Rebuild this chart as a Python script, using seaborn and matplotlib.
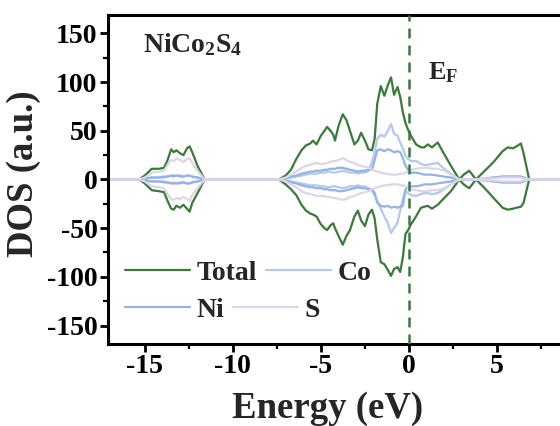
import matplotlib
matplotlib.use("Agg")
import matplotlib.pyplot as plt
import seaborn as sns
from matplotlib.ticker import MultipleLocator

# Energy grid (eV) shared by all DOS curves
energy = [-17.5, -15.3, -15.0, -14.6, -14.2, -13.9, -13.7, -13.5, -13.35, -13.2,
          -13.0, -12.8, -12.6, -12.45, -12.3, -12.0, -11.6,
          -7.4, -7.0, -6.7, -6.4, -6.1, -5.85, -5.6, -5.45, -5.25, -5.0,
          -4.8, -4.65, -4.45, -4.3, -4.2, -4.0, -3.76, -3.55, -3.35, -3.1,
          -2.9, -2.72, -2.5, -2.3, -2.1, -1.95, -1.8, -1.6, -1.4, -1.2,
          -1.02, -0.85, -0.65, -0.5, -0.35, -0.2, -0.05, 0.11,
          0.4, 0.68, 0.87, 1.06, 1.3, 1.63, 2.0, 2.38, 2.85,
          3.1, 3.42, 3.8,
          4.3, 4.8, 5.31, 5.6, 5.9, 6.1, 6.35, 6.5, 6.82, 10.0]

# Total DOS, spin up / spin down
total_up = [0, 0, 4, 11, 11, 12, 20, 31, 28, 30, 27, 25, 32, 34, 28, 14, 0,
            0, 4, 10, 21, 30, 35, 37, 40, 36, 45, 50, 54, 50, 46, 40, 55, 67, 61, 50, 36,
            40, 48, 40, 31, 30, 42, 78, 96, 86, 97, 105, 87, 95, 85, 69, 58, 51, 45,
            36, 33, 33, 36, 33, 38, 26, 14, 0, 5, 9, 0,
            9, 18, 29, 33, 32, 34, 37, 27, 0, 0]
total_down = [0, 0, -4, -11, -12, -13, -22, -30, -31, -27, -29, -26, -30, -33, -24, -14, 0,
              0, -5, -10, -16, -26, -32, -35, -36, -38, -46, -50, -52, -47, -45, -50, -58, -67, -58, -52, -38,
              -32, -42, -48, -36, -31, -40, -62, -85, -87, -93, -99, -92, -90, -95, -80, -56, -52, -46,
              -38, -29, -28, -27, -30, -26, -19, -12, 0, -5, -9, 0,
              -9, -19, -29, -31, -30, -29, -28, -24, 0, 0]

# Co partial DOS
co_up = [0, 0, 1, 2, 2, 2, 3, 4, 3, 4, 3, 3, 4, 4, 3, 2, 0,
         0, 1, 2, 3, 4, 5, 6, 6, 6, 7, 7, 8, 8, 7, 7, 8, 9, 8, 7, 7,
         6, 7, 7, 9, 18, 28, 42, 46, 44, 50, 57, 47, 45, 38, 32, 24, 21, 19,
         19, 16, 15, 15, 16, 17, 11, 6, 0, 0, 0, 0,
         1, 2, 3, 3, 3, 3, 3, 2, 0, 0]
co_down = [0, 0, -1, -2, -2, -2, -3, -4, -3, -4, -3, -3, -4, -4, -3, -2, 0,
           0, -1, -2, -3, -4, -5, -6, -6, -6, -7, -7, -8, -8, -7, -7, -8, -9, -8, -7, -7,
           -6, -7, -7, -9, -12, -16, -22, -30, -38, -45, -55, -50, -44, -32, -20, -12, -14, -16,
           -17, -15, -14, -14, -15, -14, -10, -5, 0, 0, 0, 0,
           -1, -2, -3, -3, -3, -3, -3, -2, 0, 0]

# Ni partial DOS
ni_up = [0, 0, 1, 2, 2, 3, 3, 4, 4, 4, 4, 3, 4, 4, 3, 2, 0,
         0, 1, 3, 4, 6, 7, 8, 8, 9, 9, 10, 10, 11, 11, 11, 12, 12, 11, 10, 9,
         8, 9, 9, 10, 10, 20, 30, 31, 29, 31, 30, 28, 29, 28, 22, 14, 10, 7,
         7, 6, 5, 5, 5, 4, 3, 2, 0, 0, 0, 0,
         1, 2, 3, 3, 3, 3, 3, 2, 0, 0]
ni_down = [0, 0, -1, -2, -2, -3, -3, -4, -4, -4, -4, -3, -4, -4, -3, -2, 0,
           0, -1, -3, -4, -6, -7, -8, -8, -9, -9, -10, -10, -11, -11, -11, -12, -12, -11, -10, -9,
           -8, -9, -9, -10, -10, -14, -24, -27, -28, -27, -29, -28, -29, -28, -27, -10, -8, -7,
           -7, -6, -5, -5, -5, -4, -3, -2, 0, 0, 0, 0,
           -1, -2, -3, -3, -3, -3, -3, -2, 0, 0]

# S partial DOS
s_up = [0, 0, 2, 7, 8, 9, 15, 20, 19, 22, 20, 18, 21, 22, 17, 9, 0,
        0, 2, 5, 8, 12, 14, 15, 16, 17, 16, 16, 17, 18, 19, 19, 20, 22, 20, 18, 17,
        15, 14, 13, 12, 10, 9, 8, 7, 6, 6, 5, 5, 5, 6, 6, 7, 8, 10,
        11, 12, 12, 12, 11, 11, 9, 5, 0, 0, 0, 0,
        1, 1, 2, 2, 2, 2, 2, 1, 0, 0]
s_down = [0, 0, -2, -7, -8, -9, -15, -20, -21, -19, -20, -18, -20, -22, -16, -9, 0,
          0, -2, -5, -8, -12, -14, -15, -16, -17, -17, -17, -18, -18, -19, -19, -20, -21, -20, -18, -17,
          -15, -14, -13, -12, -10, -9, -8, -7, -6, -6, -5, -5, -5, -6, -6, -7, -8, -10,
          -11, -12, -12, -12, -11, -11, -9, -5, 0, 0, 0, 0,
          -1, -1, -2, -2, -2, -2, -2, -1, 0, 0]

x_ticks = [-15, -10, -5, 0, 5]
y_ticks = [-150, -100, -50, 0, 50, 100, 150]

GREEN = "#3a7a3a"
CO_C = "#b4c9ef"
NI_C = "#93b2ea"
S_C = "#ddd6e6"

sns.set_theme(style="ticks")
plt.rcParams["font.family"] = ["Liberation Serif", "DejaVu Serif"]
plt.rcParams["font.weight"] = "bold"
plt.rcParams["axes.unicode_minus"] = False
plt.rcParams["mathtext.fontset"] = "custom"
plt.rcParams["mathtext.rm"] = "Liberation Serif:bold"
plt.rcParams["mathtext.it"] = "Liberation Serif:bold"
plt.rcParams["mathtext.bf"] = "Liberation Serif:bold"

fig = plt.figure(figsize=(5.6, 4.26), dpi=100)
ax = fig.add_axes([0.1929, 0.1925, 0.8364, 0.7723])

series = [("Total", total_up, total_down, GREEN),
          ("Co", co_up, co_down, CO_C),
          ("Ni", ni_up, ni_down, NI_C),
          ("S", s_up, s_down, S_C)]

handles = {}
for name, up, down, color in series:
    sns.lineplot(x=energy, y=up, ax=ax, color=color, lw=1.6,
                 estimator=None, sort=False, label=name)
    sns.lineplot(x=energy, y=down, ax=ax, color=color, lw=1.6,
                 estimator=None, sort=False)
h, l = ax.get_legend_handles_labels()
handles = dict(zip(l, h))
if ax.get_legend() is not None:
    ax.get_legend().remove()

# Fermi level
ax.axvline(0, color=GREEN, lw=1.8, dashes=(4, 2.8), zorder=5)

ax.set_xlim(-17.08, 9.5)
ax.set_ylim(-169, 169)
ax.set_xticks(x_ticks)
ax.set_yticks(y_ticks)
ax.xaxis.set_minor_locator(MultipleLocator(2.5))
ax.yaxis.set_minor_locator(MultipleLocator(25))

for side in ["left", "bottom", "top", "right"]:
    ax.spines[side].set_linewidth(2.2)
    ax.spines[side].set_color("black")

ax.tick_params(which="major", direction="out", length=6, width=2, colors="black",
               labelsize=20, pad=1.5)
ax.tick_params(which="minor", direction="out", length=3.5, width=1.6, colors="black")
ax.tick_params(top=False, right=False, which="both")
for lab in ax.get_xticklabels() + ax.get_yticklabels():
    lab.set_fontweight("bold")

ax.set_xlabel("Energy (eV)", fontsize=26.5, fontweight="bold", va="top")
ax.xaxis.set_label_coords(0.4686, -0.142)
ax.set_ylabel("DOS (a.u.)", fontsize=26.5, fontweight="bold")
ax.yaxis.set_label_coords(-0.143, 0.517)

ax.text(-15.11, 131, r"$\mathrm{NiCo_2S_4}$", fontsize=20, va="baseline", ha="left")
ax.text(1.1, 102.8, r"$\mathrm{E_F}$", fontsize=19, va="baseline", ha="left")

leg_font = {"family": ["Liberation Serif", "DejaVu Serif"], "weight": "bold", "size": 20}
leg_kw = dict(ncol=2, loc="center left", frameon=False, handlelength=2.34,
              handletextpad=0.25, columnspacing=0.3, borderpad=0,
              borderaxespad=0, prop=leg_font)
leg1 = ax.legend([handles["Total"], handles["Co"]], ["Total", "Co"],
                 bbox_to_anchor=(0.0363, 0.2158), **leg_kw)
ax.add_artist(leg1)
ax.legend([handles["Ni"], handles["S"]], ["Ni", "S"],
          bbox_to_anchor=(0.0363, 0.1033), **leg_kw)

fig.savefig("out.png", dpi=100)
